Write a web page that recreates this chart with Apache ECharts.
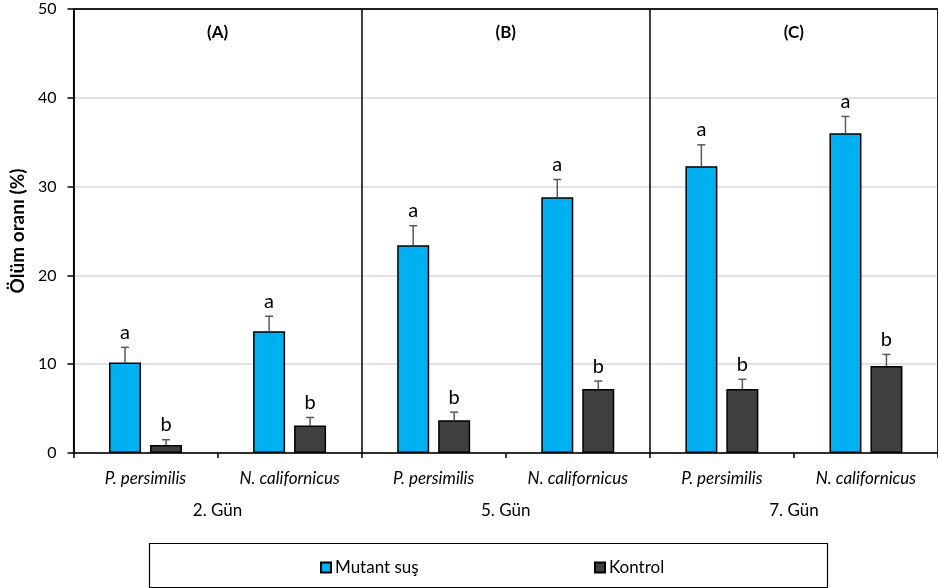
<!DOCTYPE html>
<html><head><meta charset="utf-8">
<script src="https://cdn.jsdelivr.net/npm/echarts@6/dist/echarts.min.js"></script>
<style>html,body{margin:0;padding:0;background:#fff}#c{width:938px;height:588px}</style>
</head><body><div id="c"></div>
<script>
var categories = ['P. persimilis','N. californicus','P. persimilis','N. californicus','P. persimilis','N. californicus'];
var days = ['2. Gün','5. Gün','7. Gün'];
var panels = ['(A)','(B)','(C)'];
var panelY = [47.3, 47.3, 47.3];
var mutant = [10.2, 13.7, 23.4, 28.8, 32.3, 36.0];
var mutantErr = [1.7, 1.7, 2.2, 2.0, 2.4, 1.9];
var kontrol = [0.9, 3.1, 3.7, 7.2, 7.2, 9.8];
var kontrolErr = [0.6, 0.9, 0.9, 0.9, 1.1, 1.3];
var mutantLetters = ['a','a','a','a','a','a'];
var kontrolLetters = ['b','b','b','b','b','b'];

var FONT = 'Lato';
var chart = echarts.init(document.getElementById('c'));

function errData(vals, errs, letters){
  return vals.map(function(v,i){ return [i, v, v+errs[i], letters[i]]; });
}
function errRender(offset){
  return function(params, api){
    var c = api.coord([api.value(0), api.value(1)]);
    var t = api.coord([api.value(0), api.value(2)]);
    var x = c[0] + offset;
    var col = '#595959';
    return {type:'group', children:[
      {type:'line', shape:{x1:x,y1:c[1],x2:x,y2:t[1]}, style:{stroke:col,lineWidth:1.5}},
      {type:'line', shape:{x1:x-4,y1:t[1],x2:x+4,y2:t[1]}, style:{stroke:col,lineWidth:1.5}},
      {type:'text', x:x, y:t[1]-5, style:{text:api.value(3), fill:'#000', font:'20px '+FONT, align:'center', verticalAlign:'bottom'}}
    ]};
  };
}

var option = {
  animation:false,
  textStyle:{fontFamily:FONT},
  grid:{left:73, right:-4, top:9, bottom:135, show:true, borderColor:'#000', borderWidth:1, containLabel:false},
  legend:[
    {data:['Mutant suş'], left:315, top:554, icon:'rect', itemWidth:10, itemHeight:10, itemGap:4,
     textStyle:{fontFamily:FONT, fontSize:17, color:'#000', padding:[0,0,0,-1]}},
    {data:['Kontrol'], left:589, top:554, icon:'rect', itemWidth:10, itemHeight:10, itemGap:4,
     textStyle:{fontFamily:FONT, fontSize:17, color:'#000', padding:[0,0,0,-1]}}
  ],
  graphic:[{type:'rect', left:147, top:541, shape:{width:678, height:44}, style:{fill:'none', stroke:'#000', lineWidth:1.2}}],
  xAxis:[
    {type:'category', data:categories, boundaryGap:true,
     axisLine:{lineStyle:{color:'#000', width:1.5}},
     axisTick:{show:true, length:5, lineStyle:{color:'#000', width:1.5}},
     axisLabel:{fontFamily:FONT, fontSize:17, fontStyle:'italic', color:'#000', margin:17},
     splitLine:{show:false}},
    {type:'category', data:days, boundaryGap:true, position:'bottom', offset:40,
     axisLine:{show:false}, axisTick:{show:false},
     axisLabel:{fontFamily:FONT, fontSize:17, color:'#000', margin:9},
     splitLine:{show:true, lineStyle:{color:'#000', width:1.5}}}
  ],
  yAxis:{type:'value', min:0, max:50, interval:10,
    name:'Ölüm oranı (%)', nameLocation:'middle', nameGap:45,
    nameTextStyle:{fontFamily:FONT, fontSize:19, fontWeight:'bold', color:'#000'},
    axisLine:{show:true, lineStyle:{color:'#000', width:1.5}},
    axisTick:{show:true, length:6, lineStyle:{color:'#000', width:1.5}},
    axisLabel:{fontFamily:FONT, fontSize:16, color:'#000', margin:17},
    splitLine:{show:true, lineStyle:{color:['#d9d9d9','#d9d9d9','#d9d9d9','#d9d9d9','#d9d9d9','#000'], width:1.5}}
  },
  series:[
    {name:'Mutant suş', type:'bar', data:mutant, barWidth:32, barGap:'28%',
     itemStyle:{color:'#00B0F0', borderColor:'#000', borderWidth:1.5}},
    {name:'Kontrol', type:'bar', data:kontrol, barWidth:32,
     itemStyle:{color:'#404040', borderColor:'#000', borderWidth:1.5}},
    {type:'custom', data:errData(mutant, mutantErr, mutantLetters), renderItem:errRender(-20.5), z:5, silent:true},
    {type:'custom', data:errData(kontrol, kontrolErr, kontrolLetters), renderItem:errRender(20.5), z:5, silent:true},
    {type:'custom', xAxisIndex:1, data:panels.map(function(p,i){return [i, panelY[i], p];}), z:5, silent:true,
     renderItem:function(params, api){
       var c = api.coord([api.value(0), api.value(1)]);
       return {type:'text', x:c[0], y:c[1], style:{text:api.value(2), fill:'#000', font:'bold 17px '+FONT, align:'center', verticalAlign:'middle'}};
     }}
  ]
};
chart.setOption(option);
</script></body></html>
